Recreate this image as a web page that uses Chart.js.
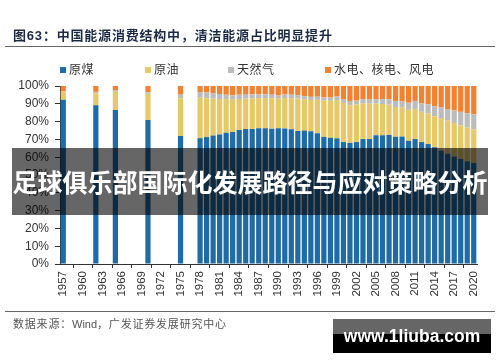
<!DOCTYPE html>
<html>
<head>
<meta charset="utf-8">
<script src="https://cdn.jsdelivr.net/npm/chart.js@4.4.1/dist/chart.umd.min.js"></script>
<style>
  body { margin: 0; width: 500px; height: 362px; overflow: hidden; background: #fff; position: relative;
         font-family: "Noto Sans CJK SC", sans-serif; }
  #chart { position: absolute; left: 0; top: 0; }
  .abs { position: absolute; white-space: nowrap; }
  #title { left: 13px; top: 25px; font-size: 13px; font-weight: bold; color: #1c2b45; letter-spacing: 0.8px; line-height: 20px; }
  #title .num { font-family: "Liberation Sans", sans-serif; }
  .rule { position: absolute; left: 5px; width: 490px; height: 1px; background: #666; }
  #legend { left: 0; top: 60px; width: 500px; height: 18px; font-size: 12px; color: #333; line-height: 18px; }
  #legend span { position: absolute; letter-spacing: 0.5px; }
  #legend i { display: inline-block; width: 6px; height: 6px; margin-right: 3px; vertical-align: 1px; }
  #source { left: 13px; top: 314px; font-size: 11px; color: #555; letter-spacing: 0.8px; line-height: 18px; }
  #source .lat { font-family: "Liberation Sans", sans-serif; letter-spacing: 0; }
  #band { left: 12px; top: 148px; width: 476px; height: 67px; background: rgba(0, 0, 0, 0.6); }
  #bandText { left: 12px; top: 148px; width: 476px; height: 67px; line-height: 67px; text-align: center;
              color: #fff; font-size: 25px; font-weight: bold; }
  #mark { left: 333px; top: 319px; width: 158px; height: 34px;
          background: linear-gradient(#666 0, #666 44%, #000 44%, #000 100%); }
  #markText { left: 333px; top: 319px; width: 158px; height: 34px; line-height: 34px; text-align: center; color: #fff;
              font-family: "Liberation Sans", sans-serif; font-weight: bold; font-size: 17.5px; }
</style>
</head>
<body>
<canvas id="chart" width="500" height="362"></canvas>
<div id="title" class="abs">图<span class="num">63</span>：中国能源消费结构中，清洁能源占比明显提升</div>
<div class="rule" style="top:46px"></div>
<div id="legend" class="abs"></div>
<div class="rule" style="top:311px"></div>
<div id="source" class="abs">数据来源：<span class="lat">Wind</span>，广发证券发展研究中心</div>
<div id="band" class="abs"></div>
<div id="bandText" class="abs">足球俱乐部国际化发展路径与应对策略分析</div>
<div id="mark" class="abs"></div>
<div id="markText" class="abs">www.1liuba.com</div>
<script>
// axis categories: every year from 1957 to 2020
var axisYears = [
  1957, 1958, 1959, 1960, 1961, 1962, 1963, 1964, 1965, 1966, 1967, 1968, 1969, 1970, 1971, 1972,
  1973, 1974, 1975, 1976, 1977, 1978, 1979, 1980, 1981, 1982, 1983, 1984, 1985, 1986, 1987, 1988,
  1989, 1990, 1991, 1992, 1993, 1994, 1995, 1996, 1997, 1998, 1999, 2000, 2001, 2002, 2003, 2004,
  2005, 2006, 2007, 2008, 2009, 2010, 2011, 2012, 2013, 2014, 2015, 2016, 2017, 2018, 2019, 2020
];

// years that actually have a bar
var dataYears = [
  1957, 1962, 1965, 1970, 1975,
  1978, 1979, 1980, 1981, 1982, 1983, 1984, 1985, 1986, 1987, 1988, 1989, 1990, 1991, 1992,
  1993, 1994, 1995, 1996, 1997, 1998, 1999, 2000, 2001, 2002, 2003, 2004, 2005, 2006, 2007,
  2008, 2009, 2010, 2011, 2012, 2013, 2014, 2015, 2016, 2017, 2018, 2019, 2020
];

// share of total energy consumption, %
var coal = [
  92.3, 89.2, 86.5, 80.9, 71.9,
  70.7, 71.3, 72.2, 72.7, 73.7, 74.2, 75.3, 75.8, 75.8, 76.2, 76.2, 76.0, 76.2, 76.1, 75.7,
  74.7, 75.0, 74.6, 73.5, 71.4, 70.9, 70.6, 68.5, 68.0, 68.5, 70.2, 70.2, 72.4, 72.4, 72.5,
  71.5, 71.6, 69.2, 70.2, 68.5, 67.4, 65.6, 63.7, 62.0, 60.4, 59.0, 57.7, 56.8
];
var oil = [
  4.6, 6.6, 10.3, 14.7, 21.1,
  22.7, 21.8, 20.7, 20.0, 18.9, 18.1, 17.4, 17.1, 17.2, 17.0, 17.0, 17.1, 16.6, 17.1, 17.5,
  18.2, 17.4, 17.5, 18.7, 20.4, 20.8, 21.5, 22.0, 21.2, 21.0, 20.1, 19.9, 17.8, 17.5, 17.0,
  16.7, 16.4, 17.4, 16.8, 17.0, 17.1, 17.4, 18.3, 18.5, 18.8, 18.9, 19.0, 18.9
];
var gas = [
  0.1, 0.9, 0.6, 0.9, 2.5,
  3.2, 3.3, 3.1, 2.8, 2.5, 2.4, 2.4, 2.2, 2.3, 2.1, 2.1, 2.0, 2.1, 2.0, 1.9,
  1.9, 1.9, 1.8, 1.8, 1.8, 1.8, 2.0, 2.2, 2.4, 2.3, 2.3, 2.3, 2.4, 2.7, 3.0,
  3.4, 3.5, 4.0, 4.6, 4.8, 5.3, 5.7, 5.9, 6.2, 7.0, 7.6, 8.0, 8.4
];
var clean = [
  3.0, 3.3, 2.6, 3.5, 4.5,
  3.4, 3.6, 4.0, 4.5, 4.9, 5.3, 4.9, 4.9, 4.7, 4.7, 4.7, 4.9, 5.1, 4.8, 4.9,
  5.2, 5.7, 6.1, 6.0, 6.4, 6.5, 5.9, 7.3, 8.4, 8.2, 7.4, 7.6, 7.4, 7.4, 7.5,
  8.4, 8.5, 9.4, 8.4, 9.7, 10.2, 11.3, 12.1, 13.3, 13.8, 14.5, 15.3, 15.9
];

var seriesNames = ["原煤", "原油", "天然气", "水电、核电、风电"];
var seriesColors = ["#1f6ba6", "#e7c866", "#bcbcbc", "#f08232"];
var legendLeft = [60, 145, 228, 325];

// spread the values onto the full year axis, gaps stay empty
function onAxis(values) {
  return axisYears.map(function (y) {
    var k = dataYears.indexOf(y);
    return k < 0 ? null : values[k];
  });
}

var legend = document.getElementById('legend');
seriesNames.forEach(function (name, i) {
  var s = document.createElement('span');
  s.style.left = legendLeft[i] + 'px';
  s.innerHTML = '<i style="background:' + seriesColors[i] + '"></i>' + name;
  legend.appendChild(s);
});

var tickFont = { family: 'Liberation Sans', size: 12 };

new Chart(document.getElementById('chart').getContext('2d'), {
  type: 'bar',
  data: {
    labels: axisYears.map(String),
    datasets: [coal, oil, gas, clean].map(function (values, i) {
      return {
        label: seriesNames[i],
        data: onAxis(values),
        backgroundColor: seriesColors[i],
        borderWidth: 0,
        barPercentage: 0.8,
        categoryPercentage: 1
      };
    })
  },
  options: {
    responsive: false,
    animation: false,
    layout: { padding: { top: 86, right: 23, bottom: 58, left: 0 } },
    plugins: { legend: { display: false }, tooltip: { enabled: false } },
    scales: {
      x: {
        stacked: true,
        offset: true,
        grid: { offset: true, drawOnChartArea: false, tickLength: 4, color: '#333' },
        border: { color: '#333' },
        ticks: {
          autoSkip: false, minRotation: 90, maxRotation: 90, padding: 3, color: '#333',
          font: { family: 'Liberation Sans', size: 11.5 },
          callback: function (v, i) { return i % 3 === 0 ? this.getLabelForValue(v) : null; }
        },
        afterFit: function (s) { s.height = 40; }
      },
      y: {
        stacked: true,
        min: 0, max: 100,
        grid: { drawOnChartArea: false, tickLength: 5, color: '#333' },
        border: { color: '#333' },
        ticks: { stepSize: 10, padding: 6, color: '#333', font: tickFont,
                 callback: function (v) { return v + '%'; } },
        afterFit: function (s) { s.width = 60; }
      }
    }
  }
});
</script>
</body>
</html>
